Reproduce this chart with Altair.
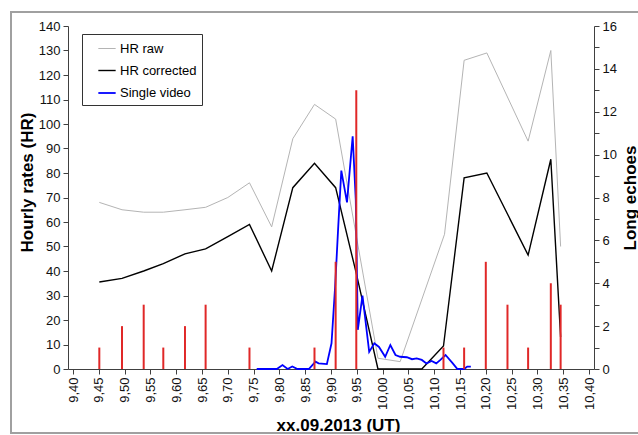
import altair as alt
import pandas as pd

FONT = "Liberation Sans"

# Hourly rate, raw (grey line)
raw_time = [9.451, 9.495, 9.537, 9.575, 9.617, 9.657, 9.700, 9.742, 9.785, 9.826,
            9.868, 9.909, 9.991, 10.034, 10.120, 10.158, 10.202, 10.282, 10.326, 10.345]
raw_hr = [68, 65, 64, 64, 65, 66, 70, 76, 58, 94,
          108, 102, 4.4, 3, 55, 126, 129, 93, 130, 50]

# Hourly rate, corrected (black line)
corr_time = [9.451, 9.495, 9.537, 9.575, 9.617, 9.657, 9.700, 9.742, 9.785, 9.826,
             9.868, 9.909, 9.949, 9.991, 10.076, 10.118, 10.158, 10.202, 10.282, 10.326, 10.345]
corr_hr = [35.5, 37, 40, 43, 47, 49, 54, 59, 40, 74,
           84, 74, 39, 0, 0, 9.4, 78, 80, 46.5, 85.6, 13]

# Single-video hourly rate (blue line)
video_time = [9.756, 9.795, 9.806, 9.816, 9.825, 9.835, 9.857, 9.870, 9.876, 9.892,
              9.901, 9.908, 9.914, 9.920, 9.931, 9.942, 9.948, 9.952, 9.961, 9.974,
              9.984, 9.993, 10.005, 10.015, 10.025, 10.034, 10.047, 10.057, 10.066, 10.076,
              10.085, 10.095, 10.104, 10.112, 10.122, 10.136, 10.145, 10.158, 10.164, 10.171]
video_hr = [0, 0, 1.6, 0, 1, 0, 0, 3, 2.3, 2,
            10.5, 33.6, 58, 81, 68, 95, 69, 16, 30, 7,
            10.5, 9, 5, 9.8, 5.7, 5, 4.8, 4, 4.3, 3.7,
            2.3, 3.3, 2.3, 3.7, 5.7, 2.3, 0, 0, 1, 1]

# Long echoes per interval (red bars, right axis)
echo_time = [9.451, 9.495, 9.537, 9.575, 9.617, 9.657, 9.742, 9.868, 9.909, 9.949,
             10.118, 10.158, 10.200, 10.242, 10.282, 10.326, 10.345]
echo_count = [1, 2, 3, 1, 2, 3, 1, 1, 5, 13,
              1, 1, 5, 3, 1, 4, 3]

series_names = ["HR raw", "HR corrected", "Single video"]
series_colors = ["#b4b4b4", "#000000", "#0000ff"]
series_widths = [1, 1.8, 1.6]

x_ticks = [9.40, 9.45, 9.50, 9.55, 9.60, 9.65, 9.70, 9.75, 9.80, 9.85, 9.90,
           9.95, 10.00, 10.05, 10.10, 10.15, 10.20, 10.25, 10.30, 10.35, 10.40]
hr_ticks = [0, 10, 20, 30, 40, 50, 60, 70, 80, 90, 100, 110, 120, 130, 140]
echo_ticks = list(range(0, 17))

lines_df = pd.concat([
    pd.DataFrame({"time": raw_time, "hr": raw_hr, "series": series_names[0]}),
    pd.DataFrame({"time": corr_time, "hr": corr_hr, "series": series_names[1]}),
    pd.DataFrame({"time": video_time, "hr": video_hr, "series": series_names[2]}),
], ignore_index=True)
echo_df = pd.DataFrame({"time": echo_time, "n": echo_count})

x_scale = alt.Scale(domain=[9.4, 10.4], nice=False, zero=False)

axis_style = dict(
    domainColor="#404040", tickColor="#404040", labelColor="#111111",
    labelFont=FONT, labelFontSize=13, titleFont=FONT, titleFontSize=17,
    titleFontWeight="bold", titleColor="#000000", tickSize=5, labelPadding=3,
    grid=False,
)

x_axis = alt.Axis(
    values=x_ticks, labelAngle=270,
    labelExpr="replace(format(datum.value, '.2f'), '.', ',')",
    titleX=270, titleY=61, titleBaseline="alphabetic", titleAlign="center",
    **axis_style,
)

legend_style = dict(
    orient="none", legendX=14, legendY=8, symbolType="stroke",
    symbolSize=300, labelFont=FONT, labelFontSize=13, labelColor="#000000",
    strokeColor="#333333", fillColor="#ffffff", padding=5,
    symbolOffset=10, labelOffset=3, rowPadding=5,
)

# outer chart-area frame
frame = alt.Chart(pd.DataFrame({"k": [0]})).mark_rect(
    fillOpacity=0, stroke="#a0a0a0", strokeWidth=2
).encode(
    x=alt.value(-57), x2=alt.value(640), y=alt.value(-14), y2=alt.value(407)
)

lines = alt.Chart(lines_df).mark_line().encode(
    x=alt.X("time:Q", scale=x_scale, title="xx.09.2013 (UT)", axis=x_axis),
    y=alt.Y(
        "hr:Q", scale=alt.Scale(domain=[0, 140], nice=False), title="Hourly rates (HR)",
        axis=alt.Axis(
            orient="left", values=hr_ticks, format="d",
            titleAngle=270, titleX=-36, titleY=156, titleBaseline="alphabetic",
            titleAlign="center", **axis_style,
        ),
    ),
    color=alt.Color(
        "series:N", title=None, sort=series_names,
        scale=alt.Scale(domain=series_names, range=series_colors),
        legend=alt.Legend(**legend_style),
    ),
    strokeWidth=alt.StrokeWidth(
        "series:N", title=None, sort=series_names,
        scale=alt.Scale(domain=series_names, range=series_widths),
        legend=alt.Legend(**legend_style),
    ),
)

bars = alt.Chart(echo_df).mark_bar(size=2, color="#e02828").encode(
    x=alt.X("time:Q", scale=x_scale, title="xx.09.2013 (UT)", axis=x_axis),
    y=alt.Y(
        "n:Q", scale=alt.Scale(domain=[0, 16], nice=False), title="Long echoes",
        axis=alt.Axis(
            orient="right", values=echo_ticks,
            labelExpr="datum.value % 2 == 0 ? datum.label : ''",
            titleAngle=270, titleX=41, titleY=171.5, titleBaseline="alphabetic",
            titleAlign="center", **axis_style,
        ),
    ),
)

chart = alt.layer(frame, lines, bars).resolve_scale(y="independent").properties(
    width=526, height=343,
    autosize=alt.AutoSizeParams(type="none"),
    padding={"left": 68, "top": 26, "right": 44, "bottom": 66},
    background="#ffffff",
).configure_view(stroke=None)

chart.save("out.html", embed_options={"renderer": "svg", "actions": False})
